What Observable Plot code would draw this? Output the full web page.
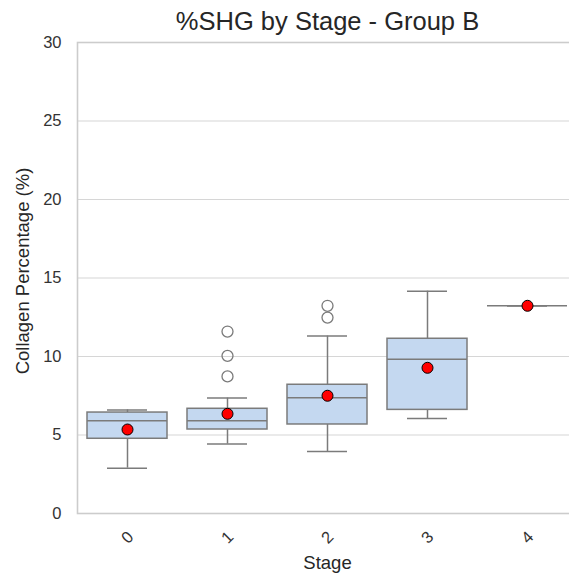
<!DOCTYPE html>
<html><head><meta charset="utf-8">
<script src="https://cdn.jsdelivr.net/npm/d3@7"></script>
<script src="https://cdn.jsdelivr.net/npm/@observablehq/plot@0.6"></script>
<style>html,body{margin:0;padding:0;background:#fff;overflow:hidden} svg{overflow:hidden}</style>
</head><body><div id="chart"></div>
<script>
const stages = ["0","1","2","3","4"];
const q1 = [4.76,5.35,5.67,6.6,13.23];
const median = [5.9,5.9,7.37,9.83,13.23];
const q3 = [6.43,6.67,8.2,11.13,13.23];
const whiskerLow = [2.89,4.42,3.95,6.05,13.23];
const whiskerHigh = [6.6,7.35,11.3,14.16,13.23];
const means = [5.35,6.35,7.5,9.28,13.23];
const outlierStage = ["1","1","1","2","2"];
const outlierValue = [8.73,10.04,11.59,12.48,13.23];
const yTicks = [0,5,10,15,20,25,30];

const boxes = stages.map((s,i)=>({stage:s,q1:q1[i],med:median[i],q3:q3[i],lo:whiskerLow[i],hi:whiskerHigh[i],mean:means[i]}));
const outliers = outlierStage.map((s,i)=>({stage:s,value:outlierValue[i]}));

const edge = "#7b7b7b";
const font = "'Liberation Sans', Arial, sans-serif";

const chart = Plot.plot({
  width: 569,
  height: 577,
  marginLeft: 77,
  marginRight: -8,
  marginTop: 42,
  marginBottom: 64,
  style: {fontFamily: font, fontSize: "14px", color: "#333", background: "#fff"},
  x: {domain: stages, paddingInner: 0.2, paddingOuter: 0.1, axis: null},
  y: {domain: [0,30], axis: null},
  marks: [
    Plot.ruleY(yTicks, {stroke: "#d6d6d6", strokeWidth: 1.2}),
    Plot.frame({stroke: "#cccccc", strokeWidth: 1.6}),
    Plot.ruleX(boxes, {x: "stage", y1: "lo", y2: "q1", stroke: edge, strokeWidth: 1.5}),
    Plot.ruleX(boxes, {x: "stage", y1: "q3", y2: "hi", stroke: edge, strokeWidth: 1.5}),
    Plot.tickY(boxes, {x: "stage", y: "lo", stroke: edge, strokeWidth: 1.5, insetLeft: 20, insetRight: 20}),
    Plot.tickY(boxes, {x: "stage", y: "hi", stroke: edge, strokeWidth: 1.5, insetLeft: 20, insetRight: 20}),
    Plot.barY(boxes, {x: "stage", y1: "q1", y2: "q3", fill: "#c4d8f0", stroke: edge, strokeWidth: 1.5}),
    Plot.tickY(boxes, {x: "stage", y: "med", stroke: edge, strokeWidth: 1.5}),
    Plot.dot(outliers, {x: "stage", y: "value", r: 5.5, stroke: edge, strokeWidth: 1.3, fill: "none"}),
    Plot.dot(boxes, {x: "stage", y: "mean", r: 5.5, fill: "#ff0000", stroke: "#000", strokeWidth: 1}),
    Plot.text(yTicks, {y: d=>d, text: d=>String(d), frameAnchor: "left", dx: -16, textAnchor: "end", fontSize: 16.5, fill: "#333"}),
    Plot.text(stages, {x: d=>d, text: d=>d, frameAnchor: "bottom", dy: 24, rotate: -45, textAnchor: "middle", lineAnchor: "middle", fontSize: 16.5, fill: "#333"}),
    Plot.text(["Stage"], {frameAnchor: "bottom", dy: 50, fontSize: 18.5, fill: "#262626", lineAnchor: "middle"}),
    Plot.text(["Collagen Percentage (%)"], {frameAnchor: "left", dx: -54, dy: -7, rotate: -90, textAnchor: "middle", fontSize: 18.5, fill: "#262626", lineAnchor: "middle"}),
    Plot.text(["%SHG by Stage - Group B"], {frameAnchor: "top", dy: -21, fontSize: 25.5, fill: "#262626", lineAnchor: "middle"})
  ]
});
document.getElementById("chart").appendChild(chart);
</script>
</body></html>
